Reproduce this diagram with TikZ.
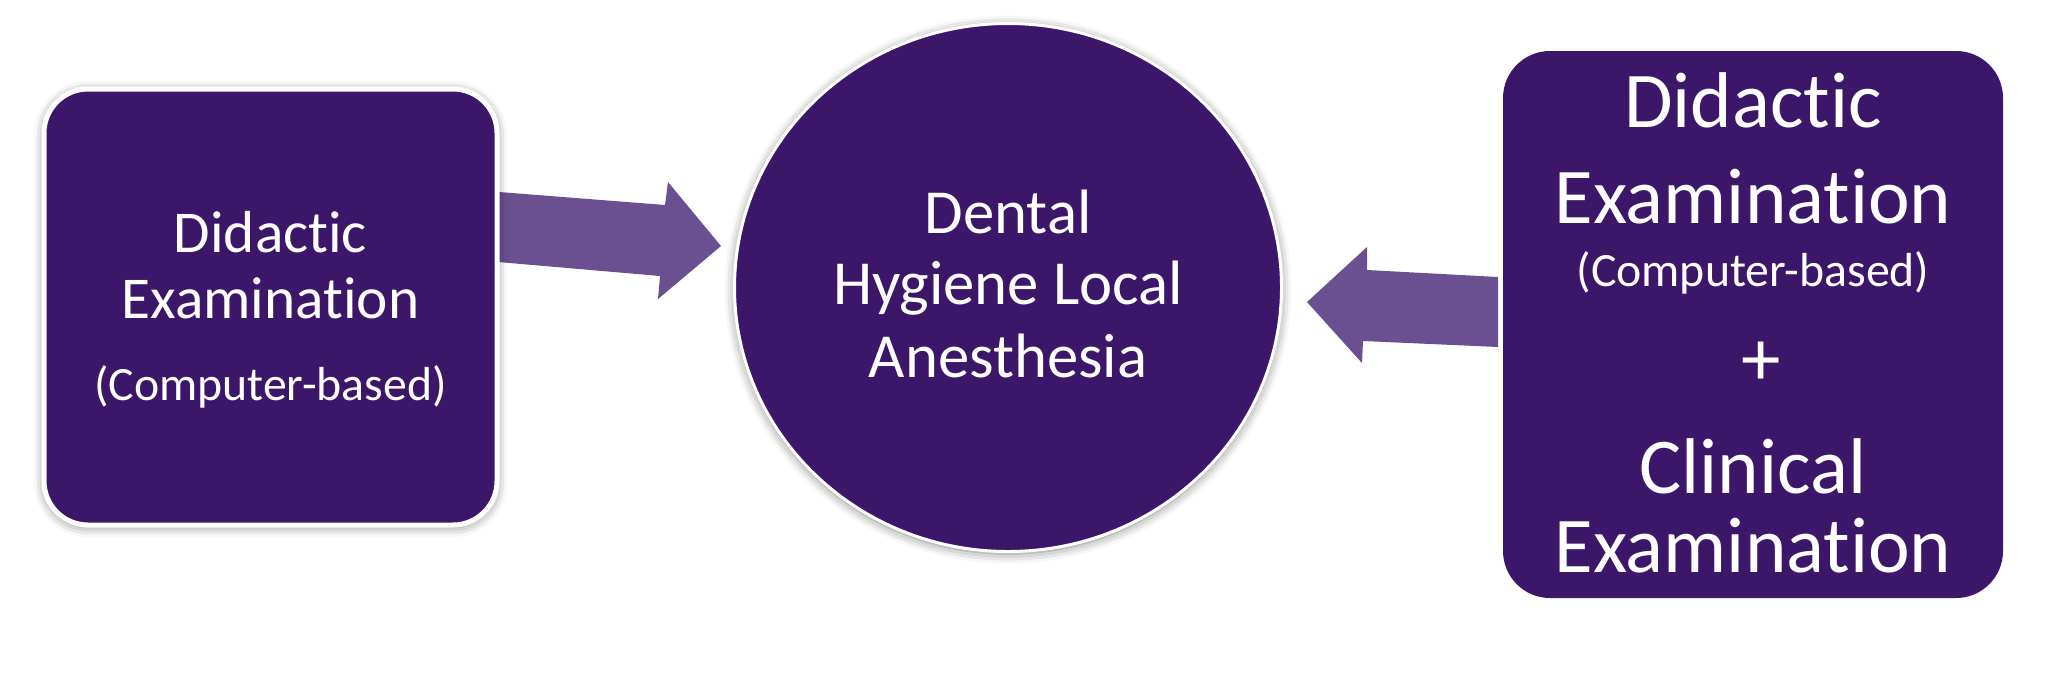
\documentclass[tikz,border=0pt]{standalone}
\usepackage{fontspec}
\setmainfont{Carlito}[RawFeature={-liga}]
\usetikzlibrary{shadows.blur,shapes.geometric}
\definecolor{deep}{HTML}{3C1769}
\definecolor{arrowc}{HTML}{6B5091}
\tikzset{
  every node/.style={inner sep=0pt, outer sep=0pt},
  glowshadow/.style={blur shadow={shadow xshift=0pt, shadow yshift=-1pt, shadow blur radius=5pt, shadow opacity=50}},
  leftpanel/.style={rectangle, rounded corners=22pt, fill=deep, draw=white, line width=2.5pt,
     minimum width=226.5pt, minimum height=218pt, glowshadow},
  rightpanel/.style={rectangle, rounded corners=23.5pt, fill=deep, minimum width=250pt, minimum height=273.5pt},
  centre/.style={ellipse, fill=deep, draw=white, line width=1.5pt, minimum width=273.5pt, minimum height=264pt, glowshadow},
  blockarrow/.style={fill=arrowc},
  txt/.style={text=white, anchor=base},
  fmid/.style={font=\fontsize{31.35pt}{37pt}\selectfont},
  fleft/.style={font=\fontsize{29.65pt}{35pt}\selectfont},
  fbig/.style={font=\fontsize{39.5pt}{47pt}\selectfont},
  fsmall/.style={font=\fontsize{23.9pt}{28pt}\selectfont},
}
\begin{document}
\begin{tikzpicture}[x=0.5pt,y=-0.5pt]
\useasboundingbox (0,0) rectangle (2048,676);

% block arrows (drawn first so the panels' glow lies over their ends)
\fill[blockarrow] (490,191.3) -- (665,205) -- (668,182) -- (721,246) -- (658,299) -- (660,276) -- (490,261.3) -- cycle;
\fill[blockarrow] (1498,277) -- (1367,270) -- (1367,247) -- (1307,302) -- (1362,363) -- (1363,341) -- (1498,347) -- cycle;

% shapes
\node[leftpanel] (lbox) at (270.5,307) {};
\node[centre] (circ) at (1008,287.5) {};
\node[rightpanel] (rbox) at (1753,324.5) {};

% left panel text
\node[txt,fleft] (l1) at (270.5,252) {Didactic};
\node[txt,fleft] (l2) at (270.5,318) {Examination};
\node[txt,fsmall] (l3) at (270.5,400) {(Computer-based)};

% centre text
\node[txt,fmid] (c1) at (1008,233) {Dental};
\node[txt,fmid] (c2) at (1008,304) {Hygiene Local};
\node[txt,fmid] (c3) at (1008,377) {Anesthesia};

% right panel text
\node[txt,fbig] (r1) at (1753,127) {Didactic};
\node[txt,fbig] (r2) at (1753,223) {Examination};
\node[txt,fsmall] (r3) at (1753,286) {(Computer-based)};
\node[txt,fbig] (r4) at (1761,385) {+};
\node[txt,fbig] (r5) at (1753,493) {Clinical};
\node[txt,fbig] (r6) at (1753,572) {Examination};
\end{tikzpicture}
\end{document}
